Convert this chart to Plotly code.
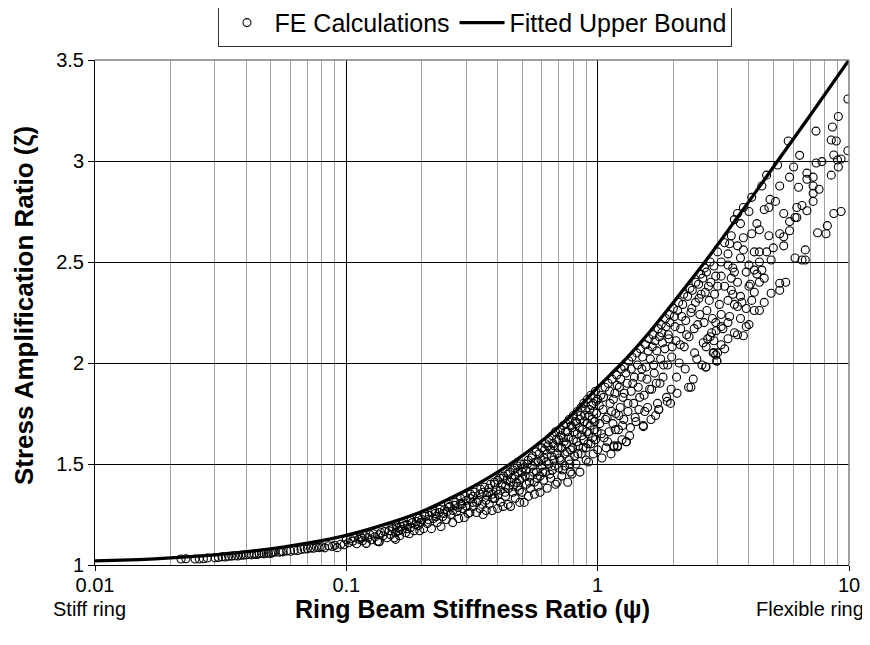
import plotly.graph_objects as go

# ---------------- data ----------------
# Fitted upper bound curve
fit_psi = [0.01, 0.015, 0.02, 0.03, 0.05, 0.07, 0.1, 0.15, 0.2, 0.3, 0.4, 0.5, 0.6, 0.7,
           0.8, 1.0, 1.25, 1.6, 2.0, 2.67, 4.0, 5.2, 7.0, 10.0]
fit_zeta = [1.02, 1.027, 1.035, 1.05, 1.08, 1.108, 1.147, 1.21, 1.265, 1.37, 1.46, 1.54, 1.615, 1.685,
            1.75, 1.88, 2.0, 2.15, 2.30, 2.5, 2.8, 3.0, 3.225, 3.5]

# FE calculations, low range (psi 0.02 - 0.1)
fe_psi_a = [0.022, 0.023, 0.025, 0.026, 0.027, 0.028, 0.030, 0.031, 0.032, 0.033, 0.034, 0.035,
            0.036, 0.037, 0.038, 0.039, 0.040, 0.041, 0.042, 0.043, 0.044, 0.045, 0.046, 0.047,
            0.048, 0.049, 0.050, 0.051, 0.052, 0.054, 0.055, 0.056, 0.058, 0.060, 0.062, 0.064,
            0.066, 0.068, 0.070, 0.072, 0.074, 0.076, 0.078, 0.080, 0.082, 0.085, 0.088, 0.090,
            0.092, 0.095, 0.098]
fe_zeta_a = [1.030, 1.031, 1.030, 1.030, 1.031, 1.035, 1.036, 1.037, 1.041, 1.040, 1.043, 1.044,
             1.046, 1.045, 1.048, 1.049, 1.050, 1.052, 1.050, 1.054, 1.052, 1.056, 1.058, 1.055,
             1.060, 1.058, 1.057, 1.062, 1.064, 1.063, 1.067, 1.065, 1.070, 1.068, 1.073, 1.072,
             1.077, 1.079, 1.080, 1.084, 1.083, 1.088, 1.086, 1.090, 1.085, 1.095, 1.092, 1.098,
             1.086, 1.103, 1.100]

# psi 0.1 - 0.3
fe_psi_b = [0.100, 0.102, 0.104, 0.106, 0.108, 0.110, 0.112, 0.114, 0.116, 0.118, 0.120, 0.122,
            0.124, 0.126, 0.128, 0.130, 0.133, 0.135, 0.137, 0.140, 0.142, 0.145, 0.148, 0.150,
            0.153, 0.155, 0.157, 0.160, 0.163, 0.166, 0.170, 0.172, 0.175, 0.178, 0.180, 0.183,
            0.186, 0.190, 0.193, 0.196, 0.200, 0.203, 0.206, 0.210, 0.214, 0.218, 0.222, 0.226,
            0.230, 0.234, 0.238, 0.242, 0.246, 0.250, 0.255, 0.260, 0.265, 0.270, 0.275, 0.280,
            0.285, 0.290, 0.295, 0.300, 0.305, 0.115, 0.135, 0.165, 0.195, 0.225, 0.255, 0.285,
            0.12, 0.135, 0.157]
fe_zeta_b = [1.125, 1.110, 1.130, 1.118, 1.135, 1.105, 1.128, 1.140, 1.120, 1.145, 1.107, 1.135,
             1.150, 1.125, 1.155, 1.140, 1.118, 1.115, 1.160, 1.145, 1.165, 1.135, 1.170, 1.150,
             1.180, 1.135, 1.160, 1.185, 1.145, 1.175, 1.195, 1.160, 1.200, 1.155, 1.185, 1.210,
             1.170, 1.215, 1.195, 1.170, 1.225, 1.180, 1.240, 1.205, 1.245, 1.180, 1.230, 1.255,
             1.210, 1.260, 1.190, 1.240, 1.275, 1.225, 1.285, 1.250, 1.210, 1.295, 1.265, 1.230,
             1.305, 1.280, 1.235, 1.320, 1.255, 1.132, 1.150, 1.190, 1.230, 1.265, 1.300, 1.330,
             1.107, 1.115, 1.127]

# psi 0.3 - 1.0
fe_psi_c = [0.31, 0.31, 0.32, 0.32, 0.33, 0.33, 0.34, 0.34, 0.35, 0.35, 0.36, 0.36, 0.37, 0.37,
            0.38, 0.38, 0.39, 0.39, 0.40, 0.40, 0.41, 0.41, 0.42, 0.42, 0.43, 0.43, 0.44, 0.44,
            0.45, 0.45, 0.46, 0.46, 0.47, 0.47, 0.48, 0.48, 0.49, 0.49, 0.50, 0.50, 0.51, 0.51,
            0.52, 0.52, 0.53, 0.53, 0.54, 0.54, 0.55, 0.55, 0.56, 0.56, 0.57, 0.57, 0.58, 0.58,
            0.59, 0.59, 0.60, 0.60, 0.61, 0.61, 0.62, 0.62, 0.63, 0.63, 0.64, 0.64, 0.65, 0.65,
            0.66, 0.66, 0.67, 0.67, 0.68, 0.68, 0.69, 0.69, 0.70, 0.70, 0.71, 0.71, 0.72, 0.72,
            0.73, 0.73, 0.74, 0.74, 0.75, 0.75, 0.76, 0.76, 0.77, 0.77, 0.78, 0.78, 0.79, 0.79,
            0.80, 0.80, 0.81, 0.82, 0.82, 0.83, 0.83, 0.84, 0.85, 0.85, 0.86, 0.86, 0.87, 0.88,
            0.88, 0.89, 0.90, 0.90, 0.91, 0.91, 0.92, 0.92, 0.93, 0.94, 0.94, 0.95, 0.96, 0.96,
            0.97, 0.98, 0.98, 0.99, 1.00, 1.00]
fe_zeta_c = [1.33, 1.26, 1.29, 1.34, 1.26, 1.31, 1.35, 1.28, 1.25, 1.36, 1.32, 1.27, 1.38, 1.30,
             1.27, 1.35, 1.40, 1.33, 1.28, 1.42, 1.37, 1.31, 1.43, 1.29, 1.39, 1.34, 1.45, 1.30,
             1.41, 1.29, 1.36, 1.47, 1.33, 1.44, 1.39, 1.49, 1.31, 1.42, 1.46, 1.36, 1.50, 1.31,
             1.40, 1.47, 1.52, 1.34, 1.44, 1.38, 1.49, 1.54, 1.41, 1.35, 1.46, 1.56, 1.51, 1.39,
             1.36, 1.44, 1.58, 1.49, 1.42, 1.53, 1.60, 1.46, 1.38, 1.55, 1.50, 1.62, 1.43, 1.57,
             1.47, 1.64, 1.52, 1.59, 1.40, 1.66, 1.55, 1.41, 1.48, 1.62, 1.67, 1.52, 1.44, 1.58,
             1.69, 1.63, 1.49, 1.55, 1.70, 1.60, 1.41, 1.66, 1.52, 1.72, 1.57, 1.46, 1.45, 1.68,
             1.62, 1.74, 1.54, 1.70, 1.50, 1.76, 1.65, 1.59, 1.46, 1.72, 1.78, 1.55, 1.67, 1.62,
             1.80, 1.74, 1.52, 1.58, 1.70, 1.82, 1.51, 1.65, 1.77, 1.84, 1.60, 1.72, 1.55, 1.80,
             1.67, 1.86, 1.62, 1.75, 1.57, 1.82]

# psi 1.0 - 3.0
fe_psi_d = [1.02, 1.03, 1.04, 1.05, 1.06, 1.07, 1.08, 1.09, 1.10, 1.11, 1.12, 1.13, 1.14, 1.15,
            1.16, 1.17, 1.18, 1.19, 1.20, 1.21, 1.22, 1.23, 1.24, 1.25, 1.26, 1.27, 1.28, 1.30,
            1.31, 1.32, 1.33, 1.35, 1.36, 1.37, 1.39, 1.40, 1.42, 1.43, 1.45, 1.46, 1.48, 1.50,
            1.52, 1.53, 1.55, 1.57, 1.58, 1.60, 1.62, 1.64, 1.66, 1.68, 1.70, 1.72, 1.74, 1.75,
            1.77, 1.79, 1.81, 1.83, 1.86, 1.88, 1.89, 1.91, 1.93, 1.95, 1.97, 2.00, 2.03, 2.06,
            2.07, 2.10, 2.13, 2.16, 2.20, 2.23, 2.26, 2.30, 2.33, 2.35, 2.37, 2.40, 2.43, 2.46,
            2.50, 2.53, 2.57, 2.60, 2.63, 2.66, 2.69, 2.72, 2.76, 2.80, 2.84, 2.88, 2.90, 2.95,
            2.98, 3.00, 1.16, 1.20, 1.30, 1.52, 1.75, 2.8, 2.7, 2.9, 2.95]
fe_zeta_d = [1.70, 1.84, 1.53, 1.77, 1.63, 1.88, 1.58, 1.73, 1.90, 1.66, 1.80, 1.55, 1.92, 1.70,
             1.59, 1.85, 1.75, 1.94, 1.59, 1.67, 1.88, 1.78, 1.97, 1.62, 1.83, 1.72, 1.98, 1.61,
             1.90, 1.76, 2.01, 1.68, 1.86, 2.03, 1.80, 1.93, 1.71, 2.05, 1.88, 1.77, 2.07, 1.97,
             1.69, 1.84, 2.09, 1.92, 1.78, 2.12, 2.02, 1.87, 2.14, 1.95, 1.74, 2.06, 2.17, 1.77,
             1.90, 2.19, 2.10, 1.99, 2.22, 1.83, 1.81, 2.14, 2.24, 1.80, 2.03, 2.27, 2.18, 1.93,
             1.85, 2.30, 2.09, 2.23, 2.34, 1.97, 2.14, 1.88, 2.37, 1.88, 2.27, 1.92, 2.05, 2.40,
             2.19, 2.32, 2.44, 1.99, 2.10, 2.47, 1.98, 2.26, 2.38, 2.50, 2.15, 2.05, 2.48, 2.43,
             2.01, 2.55, 1.585, 1.585, 1.61, 1.685, 1.77, 2.13, 2.08, 2.11, 2.04]

# psi 3.0 - 10
fe_psi_e = [3.1, 3.2, 3.35, 3.3, 3.4, 3.5, 3.6, 3.7, 3.7, 3.8, 3.8, 4.0, 4.0, 4.1, 4.1, 4.2,
            4.3, 4.3, 4.4, 4.4, 4.4, 4.5, 4.5, 4.6, 4.7, 4.7, 4.8, 4.8, 4.85, 5.0, 5.1, 5.2,
            5.3, 5.3, 5.5, 5.5, 5.5, 5.73, 5.8, 5.8, 5.8, 6.02, 6.1, 6.1, 6.2, 6.2, 6.3, 6.36,
            6.5, 6.5, 6.7, 6.7, 6.8, 6.8, 6.8, 7.2, 7.2, 7.2, 7.2, 7.39, 7.4, 7.5, 7.6, 7.8,
            8.1, 8.2, 8.5, 8.5, 8.59, 8.7, 8.7, 8.9, 9.0, 9.07, 9.07, 9.3, 9.3, 9.9, 9.9,
            5.6, 5.3, 5.3, 4.9, 4.6, 4.4, 4.2, 4.0, 3.9, 3.8, 3.6, 3.5, 3.35, 3.1, 3.2, 3.0,
            2.9, 2.98, 2.7, 4.4, 4.05, 4.0, 3.7, 3.75, 3.5, 3.6, 3.4, 3.45, 3.1, 3.2, 3.3, 3.5,
            3.6, 3.9, 4.2, 3.3, 3.05, 3.15, 3.4, 3.0, 2.95, 3.1, 3.3, 3.7, 3.9, 4.1, 3.45, 4.6,
            4.2, 3.8, 3.6, 3.3, 4.9, 2.96, 3.1]
fe_zeta_e = [2.43, 2.595, 2.59, 2.485, 2.63, 2.71, 2.74, 2.69, 2.52, 2.77, 2.62, 2.75, 2.485,
             2.82, 2.64, 2.55, 2.69, 2.44, 2.66, 2.55, 2.50, 2.876, 2.46, 2.76, 2.93, 2.55, 2.77,
             2.63, 2.81, 2.57, 2.80, 2.98, 2.876, 2.64, 2.74, 2.625, 2.58, 3.099, 2.92, 2.70,
             2.655, 2.97, 2.72, 2.52, 2.77, 2.72, 2.87, 3.028, 2.78, 2.51, 2.56, 2.51, 2.94,
             2.91, 2.754, 2.92, 2.876, 2.84, 2.80, 3.148, 2.99, 2.645, 2.86, 2.997, 2.64, 2.68,
             3.104, 2.93, 3.168, 3.03, 2.74, 3.099, 3.005, 3.22, 2.97, 3.01, 2.75, 3.307, 3.051,
             2.40, 2.395, 2.36, 2.345, 2.30, 2.26, 2.26, 2.19, 2.18, 2.135, 2.14, 2.15, 2.23,
             2.09, 2.07, 2.05, 2.05, 2.01, 1.98, 2.40, 2.39, 2.38, 2.33, 2.30, 2.29, 2.28, 2.36,
             2.34, 2.50, 2.38, 2.31, 2.45, 2.40, 2.45, 2.35, 2.20, 2.29, 2.17, 2.42, 2.38, 2.20,
             2.24, 2.12, 2.22, 2.27, 2.31, 2.47, 2.42, 2.46, 2.56, 2.58, 2.54, 2.51, 2.16, 2.18]

# additional densely packed points (psi 0.15 - 3)
fe_psi_f = [0.152, 0.158, 0.162, 0.168, 0.174, 0.181, 0.188, 0.192, 0.198, 0.205, 0.212, 0.219,
            0.228, 0.236, 0.244, 0.252, 0.258, 0.266, 0.272, 0.278, 0.288, 0.296, 0.302,
            0.312, 0.318, 0.325, 0.335, 0.342, 0.348, 0.355, 0.362, 0.368, 0.375, 0.382, 0.388,
            0.395, 0.402, 0.408, 0.415, 0.422, 0.428, 0.435, 0.442, 0.448, 0.455, 0.462, 0.468,
            0.475, 0.482, 0.488, 0.495, 0.500,
            0.505, 0.515, 0.525, 0.535, 0.545, 0.555, 0.565, 0.575, 0.585, 0.595, 0.605, 0.615,
            0.625, 0.635, 0.645, 0.655, 0.665, 0.675, 0.685, 0.695, 0.705, 0.715, 0.725, 0.735,
            0.745, 0.755, 0.765, 0.775, 0.785, 0.795, 0.805, 0.815, 0.825, 0.835, 0.845, 0.855,
            0.865, 0.875, 0.885, 0.895, 0.905, 0.915, 0.925, 0.935, 0.945, 0.955, 0.965, 0.975,
            0.985, 0.995,
            1.015, 1.035, 1.055, 1.075, 1.095, 1.115, 1.135, 1.155, 1.175, 1.195, 1.215, 1.235,
            1.255, 1.275, 1.295, 1.32, 1.34, 1.36, 1.38, 1.41, 1.44, 1.47, 1.49, 1.51, 1.54,
            1.56, 1.59, 1.61, 1.63, 1.65, 1.67, 1.69, 1.71, 1.73, 1.76, 1.78, 1.80, 1.82, 1.85,
            1.87, 1.90, 1.92, 1.94, 1.96, 1.98,
            2.02, 2.05, 2.08, 2.11, 2.14, 2.18, 2.21, 2.24, 2.28, 2.31, 2.35, 2.38, 2.42, 2.45,
            2.48, 2.52, 2.55, 2.58, 2.62, 2.65, 2.68, 2.71, 2.74, 2.78, 2.82, 2.86, 2.92]
fe_zeta_f = [1.19, 1.195, 1.17, 1.205, 1.18, 1.22, 1.20, 1.235, 1.21, 1.25, 1.225, 1.26,
             1.24, 1.275, 1.255, 1.265, 1.29, 1.27, 1.31, 1.285, 1.30, 1.34, 1.29,
             1.35, 1.31, 1.36, 1.32, 1.375, 1.30, 1.385, 1.345, 1.36, 1.40, 1.33, 1.41,
             1.37, 1.35, 1.43, 1.40, 1.44, 1.36, 1.42, 1.38, 1.46, 1.43, 1.39, 1.48,
             1.41, 1.46, 1.37, 1.50, 1.43,
             1.48, 1.44, 1.50, 1.41, 1.53, 1.46, 1.51, 1.43, 1.55, 1.52, 1.46, 1.57,
             1.51, 1.59, 1.45, 1.54, 1.60, 1.49, 1.62, 1.58, 1.53, 1.64, 1.47, 1.61,
             1.66, 1.56, 1.63, 1.50, 1.69, 1.58, 1.66, 1.71, 1.61, 1.55, 1.68, 1.74,
             1.64, 1.58, 1.71, 1.77, 1.66, 1.60, 1.74, 1.69, 1.79, 1.63, 1.76, 1.71,
             1.81, 1.66,
             1.79, 1.65, 1.83, 1.72, 1.61, 1.86, 1.76, 1.82, 1.67, 1.89, 1.74, 1.92,
             1.69, 1.85, 1.95, 1.80, 1.64, 1.97, 1.90, 1.73, 1.99, 1.83, 1.93, 2.03, 1.76,
             1.98, 2.06, 1.87, 1.72, 2.08, 1.99, 2.11, 1.90, 1.80, 2.13, 2.02, 2.15, 1.93, 2.07,
             2.18, 1.99, 2.12, 2.20, 1.87, 2.08,
             2.23, 2.11, 2.26, 2.00, 2.17, 2.29, 2.08, 2.21, 2.33, 2.13, 2.25, 2.36, 2.17, 2.30,
             2.02, 2.39, 2.24, 2.34, 2.42, 2.20, 2.35, 2.45, 2.12, 2.31, 2.40, 2.22, 2.34]

x_tick_vals = [0.01, 0.1, 1, 10]
x_tick_text = ["0.01", "0.1", "1", "10"]
x_minor_vals = [0.02, 0.03, 0.04, 0.05, 0.06, 0.07, 0.08, 0.09,
                0.2, 0.3, 0.4, 0.5, 0.6, 0.7, 0.8, 0.9,
                2, 3, 4, 5, 6, 7, 8, 9]
y_tick_vals = [1, 1.5, 2, 2.5, 3, 3.5]
y_tick_text = ["1", "1.5", "2", "2.5", "3", "3.5"]

fe_psi = fe_psi_a + fe_psi_b + fe_psi_c + fe_psi_d + fe_psi_e + fe_psi_f
fe_zeta = fe_zeta_a + fe_zeta_b + fe_zeta_c + fe_zeta_d + fe_zeta_e + fe_zeta_f

FONT = "Liberation Sans, Arial, sans-serif"

fig = go.Figure()
fig.add_trace(go.Scatter(
    x=fe_psi, y=fe_zeta, mode="markers", name="FE Calculations",
    marker=dict(symbol="circle-open", size=8, color="black", line=dict(width=1.1, color="black")),
))
fig.add_trace(go.Scatter(
    x=fit_psi, y=fit_zeta, mode="lines", name="Fitted Upper Bound",
    line=dict(color="black", width=3.3, shape="spline", smoothing=0.6),
))

# the page body adds an 8 px offset, so the figure is 8 px smaller and margins shifted
fig.update_layout(
    width=862, height=637,
    margin=dict(l=87, r=21, t=52, b=80, autoexpand=False),
    paper_bgcolor="white", plot_bgcolor="white",
    font=dict(family=FONT, size=20, color="black"),
    showlegend=True,
    legend=dict(
        orientation="h", x=0.5046, xanchor="center", y=1.026, yanchor="bottom",
        bordercolor="#333333", borderwidth=1, bgcolor="white",
        font=dict(family=FONT, size=25, color="black"),
        itemsizing="trace", itemwidth=45,
    ),
    xaxis=dict(
        type="log", range=[-2, 1], automargin=False,
        tickmode="array", tickvals=x_tick_vals, ticktext=x_tick_text,
        showgrid=True, gridcolor="black", gridwidth=1,
        showline=True, linecolor="black", linewidth=1,
        ticks="outside", ticklen=5, tickcolor="black", ticklabelstandoff=-3,
        tickfont=dict(family=FONT, size=20),
        minor=dict(tickmode="array", tickvals=x_minor_vals, showgrid=True,
                   gridcolor="#a0a0a0", gridwidth=1, ticks=""),
        zeroline=False,
    ),
    yaxis=dict(
        range=[1, 3.5], automargin=False,
        tickmode="array", tickvals=y_tick_vals, ticktext=y_tick_text,
        showgrid=True, gridcolor="black", gridwidth=1,
        showline=True, linecolor="black", linewidth=1,
        ticks="outside", ticklen=6, tickcolor="black",
        tickfont=dict(family=FONT, size=20),
        zeroline=False,
    ),
    shapes=[
        dict(type="line", xref="paper", yref="paper", x0=0, x1=1, y0=1, y1=1,
             line=dict(color="#808080", width=1.5)),
        dict(type="line", xref="paper", yref="paper", x0=1, x1=1, y0=0, y1=1,
             line=dict(color="#808080", width=1.5)),
    ],
    annotations=[
        dict(text="<b>Ring Beam Stiffness Ratio (ψ)</b>", xref="paper", yref="paper",
             x=0.5, y=-0.088, xanchor="center", yanchor="middle", showarrow=False,
             font=dict(family=FONT, size=25)),
        dict(text="<b>Stress Amplification Ratio (ζ)</b>", xref="paper", yref="paper",
             x=-0.094, y=0.513, xanchor="center", yanchor="middle", showarrow=False,
             textangle=-90, font=dict(family=FONT, size=26)),
        dict(text="Stiff ring", xref="paper", yref="paper", x=-0.007, y=-0.088,
             xanchor="center", yanchor="middle", showarrow=False,
             font=dict(family=FONT, size=20)),
        dict(text="Flexible ring", xref="paper", yref="paper", x=0.948, y=-0.088,
             xanchor="center", yanchor="middle", showarrow=False,
             font=dict(family=FONT, size=20)),
    ],
)

fig.write_html("out.html")
